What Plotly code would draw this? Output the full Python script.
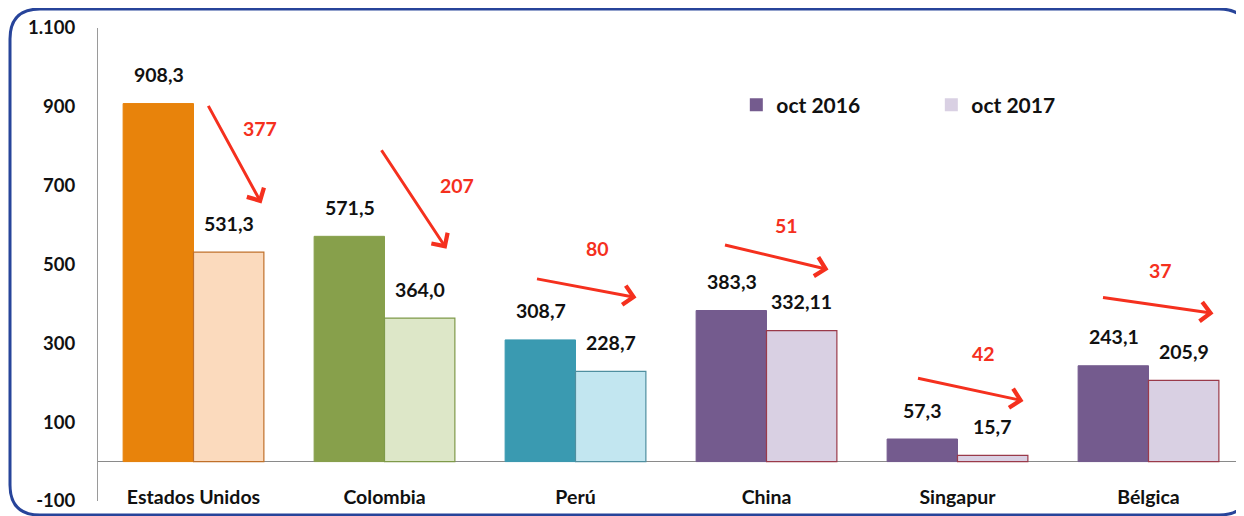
import plotly.graph_objects as go

# data
categories = ["Estados Unidos", "Colombia", "Perú", "China", "Singapur", "Bélgica"]
oct_2016 = [908.3, 571.5, 308.7, 383.3, 57.3, 243.1]
oct_2017 = [531.3, 364.0, 228.7, 332.11, 15.7, 205.9]
drops = [377, 207, 80, 51, 42, 37]
y_ticks = [-100, 100, 300, 500, 700, 900, 1100]

# colours per country: dark (2016) / light (2017)
dark_colors = ["#e8830b", "#87a04b", "#3a9ab1", "#745b8e", "#745b8e", "#745b8e"]
light_colors = ["#fbdabd", "#dde7c8", "#c2e6f0", "#d9d0e3", "#d9d0e3", "#d9d0e3"]
light_edges = ["#c0702a", "#7f9a4a", "#4f8fa0", "#9a3a4a", "#9a3a4a", "#9a3a4a"]

# arrow geometry in pixels relative to each category centre (head xshift, head y, tail ax/ay, label xshift/y)
arrow_style = [
    dict(hx=68, hy=655, ax=-54, ay=-99, tx=66, ty=845),
    dict(hx=62, hy=540, ax=-66, ay=-100, tx=72, ty=700),
    dict(hx=61, hy=416, ax=-101, ay=-19, tx=22, ty=540),
    dict(hx=62, hy=487, ax=-105, ay=-25, tx=20, ty=598),
    dict(hx=66, hy=154, ax=-107, ay=-23, tx=26, ty=275),
    dict(hx=65, hy=376, ax=-112, ay=-16, tx=12, ty=485),
]

FONT = "Lato"
OFF = 8  # page body margin around the plot div
W, H = 1244 - OFF, 516 - OFF
ML, MR, MT, MB = 98 - OFF, 0, 28 - OFF, 15

fig = go.Figure()
fig.add_trace(go.Bar(
    x=categories, y=oct_2016, name="oct 2016", showlegend=False,
    marker=dict(color=dark_colors, line=dict(color=dark_colors, width=1)),
))
fig.add_trace(go.Bar(
    x=categories, y=oct_2017, name="oct 2017", showlegend=False,
    marker=dict(color=light_colors, line=dict(color=light_edges, width=1.2)),
))

# legend swatches
for name, col in [("oct 2016", "#745b8e"), ("oct 2017", "#d9d0e3")]:
    fig.add_trace(go.Scatter(
        x=[None], y=[None], mode="markers", name=name,
        marker=dict(symbol="square", size=13, color=col),
    ))

annotations = []
for series, shift in [(oct_2016, -35), (oct_2017, 35)]:
    for cat, val in zip(categories, series):
        annotations.append(dict(
            x=cat, y=val, xref="x", yref="y", xshift=shift, yshift=29,
            text=str(val).replace(".", ","), showarrow=False,
            font=dict(family=FONT, size=19.5, color="#111111", weight="bold"),
        ))

for cat, d, st in zip(categories, drops, arrow_style):
    annotations.append(dict(
        x=cat, y=st["hy"], xref="x", yref="y", xshift=st["hx"],
        ax=st["ax"], ay=st["ay"], text="", showarrow=True,
        arrowhead=4, arrowsize=1.25, arrowwidth=3, arrowcolor="#f5301e",
    ))
    annotations.append(dict(
        x=cat, y=st["ty"], xref="x", yref="y", xshift=st["tx"],
        text=str(d), showarrow=False,
        font=dict(family=FONT, size=19.5, color="#f5301e", weight="bold"),
    ))

pw = W - ML - MR
ph = H - MT - MB


def px(x):
    return (x - OFF - ML) / pw


def py(y):
    return (H - MB - (y - OFF)) / ph


x0, x1, y0, y1, r = 10, 1249, 9, 515, 30
border = (
    f"M {px(x0 + r)},{py(y0)} L {px(x1 - r)},{py(y0)} "
    f"Q {px(x1)},{py(y0)} {px(x1)},{py(y0 + r)} "
    f"L {px(x1)},{py(y1 - r)} Q {px(x1)},{py(y1)} {px(x1 - r)},{py(y1)} "
    f"L {px(x0 + r)},{py(y1)} Q {px(x0)},{py(y1)} {px(x0)},{py(y1 - r)} "
    f"L {px(x0)},{py(y0 + r)} Q {px(x0)},{py(y0)} {px(x0 + r)},{py(y0)} Z"
)

fig.update_layout(
    width=W, height=H,
    margin=dict(l=ML, r=MR, t=MT, b=MB),
    paper_bgcolor="white", plot_bgcolor="white",
    barmode="group", bargap=0.263, bargroupgap=0,
    font=dict(family=FONT, size=18, color="#111111", weight="bold"),
    legend=dict(
        orientation="h", x=0.557, y=0.837, xanchor="left", yanchor="middle",
        entrywidth=150, font=dict(size=21, weight="bold"),
        itemwidth=30, bgcolor="rgba(0,0,0,0)",
    ),
    annotations=annotations,
    shapes=[dict(type="path", path=border, xref="paper", yref="paper",
                 line=dict(color="#27449a", width=3), layer="above")],
)
fig.update_xaxes(
    showgrid=False, showline=False, ticks="", ticklabelstandoff=-18,
    automargin=False,
    tickfont=dict(family=FONT, size=19.5, weight="bold"),
)
fig.update_yaxes(
    range=[-100, 1100], tickvals=y_ticks,
    ticktext=[f"{v:,}".replace(",", ".") for v in y_ticks],
    showgrid=False, showline=True, linecolor="#9a9a9a", linewidth=1,
    zeroline=True, zerolinecolor="#8a8a8a", zerolinewidth=1,
    ticks="", ticklabelstandoff=18, automargin=False,
    tickfont=dict(family=FONT, size=18.5, weight="bold"),
)

fig.write_html("out.html")
